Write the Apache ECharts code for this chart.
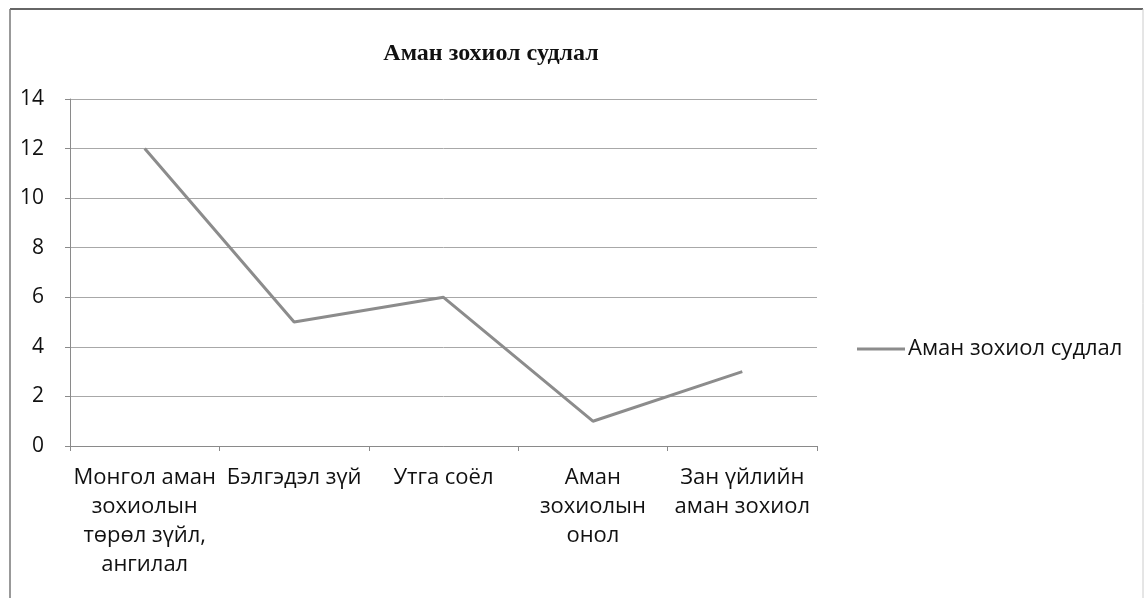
<!DOCTYPE html>
<html>
<head>
<meta charset="utf-8">
<script src="https://cdn.jsdelivr.net/npm/echarts@6/dist/echarts.min.js"></script>
<style>html,body{margin:0;padding:0;background:#fff}#c{width:1146px;height:598px}</style>
</head>
<body>
<div id="c"></div>
<script>
const chartTitle = 'Аман зохиол судлал';
const seriesName = 'Аман зохиол судлал';
const categories = [
  'Монгол аман\nзохиолын\nтөрөл зүйл,\nангилал',
  'Бэлгэдэл зүй',
  'Утга соёл',
  'Аман\nзохиолын\nонол',
  'Зан үйлийн\nаман зохиол'
];
const values = [12, 5, 6, 1, 3];

const chart = echarts.init(document.getElementById('c'));
const font = '"Open Sans", sans-serif';
chart.setOption({
  animation: false,
  title: {
    text: chartTitle, left: 491, top: 42, textAlign: 'center', padding: 0,
    textStyle: { fontFamily: '"Liberation Serif", serif', fontWeight: 'bold', fontSize: 24, color: '#111' }
  },
  legend: {
    data: [seriesName], left: 857, top: 338, padding: 0, itemWidth: 48, itemHeight: 3, itemGap: 3,
    icon: 'rect',
    textStyle: { fontFamily: font, fontSize: 22, color: '#111', padding: [0,0,0,-2] }
  },
  grid: { left: 70, right: 329, top: 99, bottom: 152 },
  xAxis: {
    type: 'category', data: categories, boundaryGap: true,
    axisLine: { lineStyle: { color: '#8a8a8a', width: 1 } },
    axisTick: { show: true, length: 5, lineStyle: { color: '#8a8a8a' } },
    axisLabel: { interval: 0, margin: 17, fontFamily: font, fontSize: 22, color: '#111', lineHeight: 29 }
  },
  yAxis: {
    type: 'value', min: 0, max: 14, interval: 2,
    axisLine: { show: true, lineStyle: { color: '#8a8a8a' } },
    axisTick: { show: true, length: 5, lineStyle: { color: '#8a8a8a' } },
    axisLabel: { margin: 26, fontFamily: font, fontSize: 21, color: '#111' },
    splitLine: { lineStyle: { color: '#a8a8a8', width: 1 } }
  },
  series: [{
    name: seriesName, type: 'line', data: values, symbol: 'none',
    lineStyle: { color: '#8c8c8c', width: 3 }, itemStyle: { color: '#8c8c8c' }
  }],
  graphic: [
    { type: 'line', shape: { x1: 10, y1: 9, x2: 1143, y2: 9 }, style: { stroke: '#666', lineWidth: 2 } },
    { type: 'line', shape: { x1: 10, y1: 9, x2: 10, y2: 598 }, style: { stroke: '#777', lineWidth: 1.5 } },
    { type: 'line', shape: { x1: 1143, y1: 9, x2: 1143, y2: 598 }, style: { stroke: '#ccc', lineWidth: 1 } }
  ]
});
</script>
</body>
</html>
